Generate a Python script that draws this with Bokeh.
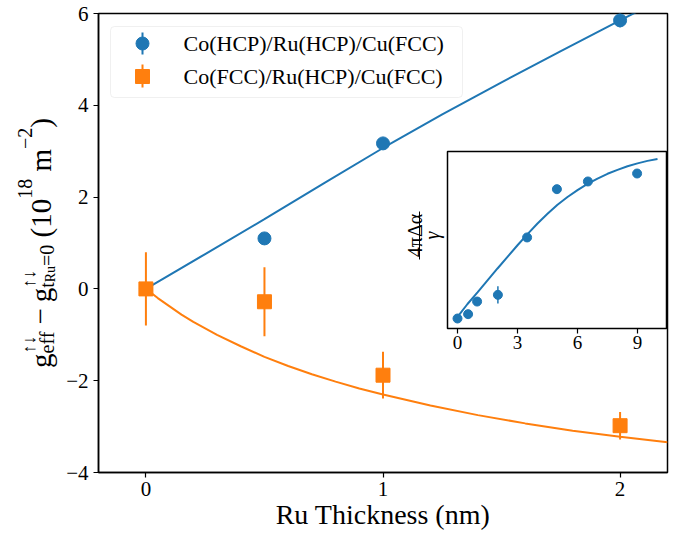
import math
from bokeh.plotting import figure
from bokeh.models import Range1d, Label, BoxAnnotation
from bokeh.layouts import row
from bokeh.core.properties import value
from bokeh.embed import file_html
from bokeh.resources import INLINE

# ---------------- data ----------------
ru_thickness = [0, 0.5, 1, 2]
hcp_values = [0.0, 1.10, 3.17, 5.85]
hcp_err = [0.12, 0.12, 0.12, 0.15]
fcc_values = [0.0, -0.28, -1.88, -2.98]
fcc_err = [0.80, 0.75, 0.51, 0.30]

hcp_fit_x = [0, 0.25, 0.5, 0.75, 1, 1.25, 1.5, 1.75, 2, 2.2]
hcp_fit_y = [0, 0.76, 1.52, 2.30, 3.07, 3.80, 4.50, 5.18, 5.85, 6.38]
fcc_fit_x = [0, 0.05, 0.1, 0.15, 0.2, 0.3, 0.4, 0.5, 0.6, 0.7, 0.8, 0.9, 1.0, 1.2, 1.4, 1.6, 1.8, 2.0, 2.2]
fcc_fit_y = [0, -0.20, -0.38, -0.56, -0.72, -1.00, -1.25, -1.48, -1.68, -1.86, -2.02, -2.17, -2.30,
             -2.54, -2.75, -2.93, -3.09, -3.22, -3.34]

inset_x = [0, 0.53, 0.98, 2.02, 3.48, 4.97, 6.52, 8.98]
inset_y = [0, 0.03, 0.117, 0.163, 0.559, 0.892, 0.945, 1.0]
inset_err = [0.02, 0.02, 0.02, 0.06, 0.02, 0.02, 0.02, 0.02]
inset_fit_x = [0.05, 0.5, 1, 1.5, 2, 2.5, 3, 3.5, 4, 4.5, 5, 5.5, 6, 6.5, 7, 7.5, 8, 8.5, 9, 9.5, 10]
inset_fit_y = [0.02, 0.10, 0.18, 0.263, 0.345, 0.425, 0.505, 0.582, 0.655, 0.722, 0.785, 0.838,
               0.885, 0.928, 0.965, 0.998, 1.025, 1.05, 1.07, 1.087, 1.10]

x_ticks = [0, 1, 2]
y_ticks = [-4, -2, 0, 2, 4, 6]
inset_ticks = [0, 3, 6, 9]
legend_labels = ["Co(HCP)/Ru(HCP)/Cu(FCC)", "Co(FCC)/Ru(HCP)/Cu(FCC)"]

BLUE = "#1f77b4"
ORANGE = "#ff7f0e"
FONT = "Liberation Serif"

# ---------------- layout (page pixel coordinates; canvas starts at page 0,0 as measured) ----------------
H = 536
LEFT_W = 62          # label strip: page x 0 .. 62
MAIN_W = 627         # main figure: page x 62 .. 689
MAIN_X0 = LEFT_W
FX0, FX1, FY0, FY1 = 98, 667, 13, 472   # plot frame in page px
XR = (-0.2, 2.2)
YR = (-4, 6)


def mx(px):
    return XR[0] + (px - FX0) / (FX1 - FX0) * (XR[1] - XR[0])


def my(py):
    return YR[1] - (py - FY0) / (FY1 - FY0) * (YR[1] - YR[0])


# inset: 0 at page x 457, 20 px/unit ; 0 at page y 318, 145 px/unit
IX0, IPX = 457, 20.0
IY0, IPY = 318, 145.0


def ix(px):
    return (px - IX0) / IPX


def iy(py):
    return (IY0 - py) / IPY


p = figure(width=MAIN_W, height=H, output_backend="svg", toolbar_location=None,
           x_range=Range1d(*XR), y_range=Range1d(*YR),
           min_border_left=FX0 - MAIN_X0, min_border_right=MAIN_X0 + MAIN_W - FX1,
           min_border_top=FY0, min_border_bottom=H - FY1)
p.extra_x_ranges = {"ix": Range1d(ix(FX0), ix(FX1))}
p.extra_y_ranges = {"iy": Range1d(iy(FY1), iy(FY0))}

p.xgrid.visible = False
p.ygrid.visible = False
p.outline_line_color = "black"
p.outline_line_width = 1.5
p.outline_line_alpha = 1.0

for ax in (p.xaxis[0], p.yaxis[0]):
    ax.major_tick_in = 0
    ax.major_tick_out = 5
    ax.minor_tick_in = 0
    ax.minor_tick_out = 0
    ax.axis_line_width = 1.5
    ax.major_tick_line_width = 1.2
    ax.major_label_text_font = FONT
    ax.major_label_text_font_size = "21px"
    ax.major_label_text_color = "black"

p.xaxis.ticker = x_ticks
p.yaxis.ticker = y_ticks
p.yaxis.major_label_overrides = {t: ("\u2212" + str(abs(t)) if t < 0 else str(t)) for t in y_ticks}
p.xaxis.major_label_standoff = 4
p.yaxis.major_label_standoff = 5
p.xaxis.axis_label = "Ru Thickness (nm)"
p.xaxis.axis_label_text_font = FONT
p.xaxis.axis_label_text_font_size = "28px"
p.xaxis.axis_label_text_font_style = "normal"
p.xaxis.axis_label_text_color = "black"
p.xaxis.axis_label_standoff = 0

# ---------------- main data ----------------
p.line(hcp_fit_x, hcp_fit_y, line_color=BLUE, line_width=2)
p.line(fcc_fit_x, fcc_fit_y, line_color=ORANGE, line_width=2)

p.segment(x0=ru_thickness, y0=[v - e for v, e in zip(hcp_values, hcp_err)],
          x1=ru_thickness, y1=[v + e for v, e in zip(hcp_values, hcp_err)],
          line_color=BLUE, line_width=2)
p.scatter(ru_thickness, hcp_values, marker="circle", size=13, fill_color=BLUE, line_color=BLUE)

p.segment(x0=ru_thickness, y0=[v - e for v, e in zip(fcc_values, fcc_err)],
          x1=ru_thickness, y1=[v + e for v, e in zip(fcc_values, fcc_err)],
          line_color=ORANGE, line_width=2)
p.scatter(ru_thickness, fcc_values, marker="square", size=14, fill_color=ORANGE, line_color=ORANGE)

# ---------------- inset ----------------
p.quad(left=[ix(447)], right=[ix(666)], bottom=[iy(328)], top=[iy(151)],
       fill_color="white", line_color="black", line_width=1.5,
       x_range_name="ix", y_range_name="iy")
p.segment(x0=inset_ticks, x1=inset_ticks, y0=[iy(328)] * len(inset_ticks), y1=[iy(333)] * len(inset_ticks),
          line_color="black", line_width=1.2, x_range_name="ix", y_range_name="iy")
p.text(x=inset_ticks, y=[iy(335)] * len(inset_ticks), text=[str(t) for t in inset_ticks],
       text_font=value(FONT), text_font_size="19px", text_align="center", text_baseline="top",
       text_color="black", x_range_name="ix", y_range_name="iy")
p.line(inset_fit_x, inset_fit_y, line_color=BLUE, line_width=2, x_range_name="ix", y_range_name="iy")
p.segment(x0=inset_x, x1=inset_x, y0=[v - e for v, e in zip(inset_y, inset_err)],
          y1=[v + e for v, e in zip(inset_y, inset_err)], line_color=BLUE, line_width=1.5,
          x_range_name="ix", y_range_name="iy")
p.scatter(inset_x, inset_y, marker="circle", size=9, fill_color=BLUE, line_color=BLUE,
          x_range_name="ix", y_range_name="iy")

# inset y label: fraction 4πΔα / γ (rotated)
p.add_layout(Label(x=mx(414), y=my(235), text="4πΔα", angle=math.pi / 2, text_font=FONT,
                   text_font_size="20px", text_align="center", text_baseline="alphabetic",
                   text_color="black"))
p.segment(x0=[mx(419)], x1=[mx(419)], y0=[my(211)], y1=[my(259)], line_color="black", line_width=1)
p.add_layout(Label(x=mx(431), y=my(235), text="γ", angle=math.pi / 2, text_font=FONT,
                   text_font_size="20px", text_font_style="italic", text_align="center",
                   text_baseline="alphabetic", text_color="black"))

# ---------------- legend (drawn) ----------------
p.add_layout(BoxAnnotation(left=mx(110), right=mx(462), top=my(26), bottom=my(97),
                           fill_color="white", fill_alpha=0.8, line_color="#cccccc",
                           line_width=1, border_radius=4, level="underlay"))
p.segment(x0=[mx(142)], x1=[mx(142)], y0=[my(32)], y1=[my(54)], line_color=BLUE, line_width=2)
p.scatter([mx(142)], [my(43)], marker="circle", size=13, fill_color=BLUE, line_color=BLUE)
p.segment(x0=[mx(142)], x1=[mx(142)], y0=[my(64)], y1=[my(87)], line_color=ORANGE, line_width=2)
p.scatter([mx(142)], [my(76)], marker="square", size=14, fill_color=ORANGE, line_color=ORANGE)
for lbl, py in zip(legend_labels, (43, 76)):
    p.add_layout(Label(x=mx(183), y=my(py), text=lbl, text_font=FONT, text_font_size="22px",
                       text_baseline="middle", text_align="left", text_color="black"))

# ---------------- y axis label strip (frame aligned with the main frame) ----------------
yl = figure(width=LEFT_W, height=H, output_backend="svg", toolbar_location=None,
            x_range=Range1d(0, LEFT_W), y_range=Range1d(FY1, FY0),
            x_axis_type=None, y_axis_type=None, min_border=0)
yl.xgrid.visible = False
yl.ygrid.visible = False
yl.outline_line_color = None

F, S1, S2 = 29, 20, 14
BASE, SUP, SUB, SUB2, SUPD = 40, 28, 46, 50, 24
# (text, font size, baseline x, advance in px along the label)
pieces = [
    ("g", F, BASE, 0.5 * F),
    ("↑↓", 18, SUP, 0),
    ("eff", S1, SUB, 1.11 * S1 + 1),
    ("", F, BASE, 0.2 * F),
    ("\u2212", F, BASE, 0.564 * F + 0.2 * F),
    ("g", F, BASE, 0.5 * F),
    ("↑↓", 18, SUP, 0),
    ("t", S1, SUB, 0.278 * S1),
    ("Ru", S2, SUB2, 1.167 * S2),
    ("=0", S1, SUB, 1.064 * S1 + 0.25 * F),
    ("(10", F, BASE, 1.333 * F),
    ("18", S1, SUPD, 1.0 * S1 + 0.25 * F),
    ("m", F, BASE, 0.778 * F),
    ("\u22122", S1, SUPD, 1.064 * S1),
    (")", F, BASE, 0.333 * F),
]
total = sum(pc[3] for pc in pieces)
pos = (FY0 + FY1) / 2 + total / 2
for txt, size, bx, adv in pieces:
    if txt:
        yl.add_layout(Label(x=bx, y=pos, text=txt, angle=math.pi / 2, text_font=FONT,
                            text_font_size=f"{size}px", text_align="left",
                            text_baseline="alphabetic", text_color="black"))
    pos -= adv

layout = row(yl, p, spacing=0)
open("out.html", "w").write(file_html(layout, INLINE))
